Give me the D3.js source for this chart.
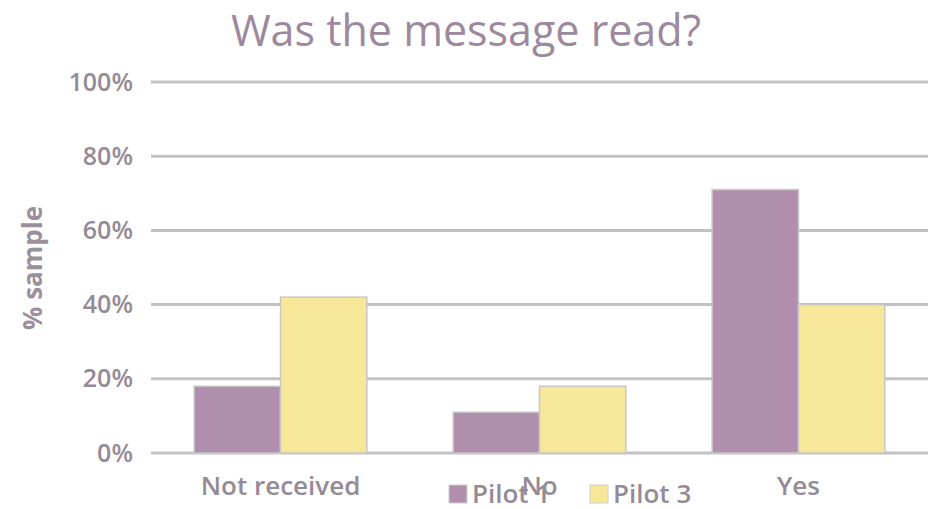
<!DOCTYPE html>
<html>
<head>
<meta charset="utf-8">
<script src="https://cdn.jsdelivr.net/npm/d3@7"></script>
<style>
  body { margin: 0; background: #fff; }
  text { font-family: "Open Sans", sans-serif; }
</style>
</head>
<body>
<div class="canva"></div>
<script>
// chart data
const categories = ['Not received', 'No', 'Yes'];
const seriesNames = ['Pilot 1', 'Pilot 3'];
const pilot1 = [18, 11, 71];
const pilot3 = [42, 18, 40];
const yTicks = [0, 20, 40, 60, 80, 100];
const colors = ['#b08fae', '#f7e799'];

const W = 934, H = 509;
const margin = {top: 82, right: 6, bottom: 56, left: 151};

const svg = d3.select('.canva').append('svg')
  .attr('width', W)
  .attr('height', H)

const x = d3.scaleBand().domain(categories)
  .range([margin.left, W - margin.right])
  .paddingInner(0).paddingOuter(0);
const xs = d3.scaleBand().domain(seriesNames)
  .range([0, x.bandwidth()])
  .paddingInner(0).paddingOuter(0.5);
const y = d3.scaleLinear().domain([0, 100])
  .range([H - margin.bottom, margin.top]);

//gridlines
svg.append('g').selectAll('line')
  .data(yTicks).enter().append('line')
  .attr('x1', margin.left).attr('x2', W - margin.right)
  .attr('y1', d => y(d)).attr('y2', d => y(d))
  .attr('stroke', '#c2c2c2').attr('stroke-width', 3)

//y axis labels
const yAxis = svg.append('g')
  .attr('transform', `translate(${margin.left - 15},0)`)
  .call(d3.axisLeft(y).tickValues(yTicks).tickSize(0).tickFormat(d => d + '%'))
yAxis.select('.domain').remove();
yAxis.selectAll('text')
  .attr('font-size', 25).attr('font-weight', 600)
  .attr('fill', '#958b96').attr('font-family', '"Open Sans", sans-serif')

//bars
const rows = categories.map((c, i) => ({cat: c, vals: [pilot1[i], pilot3[i]]}));
const groups = svg.append('g').selectAll('g')
  .data(rows).enter().append('g')
  .attr('transform', d => `translate(${x(d.cat)},0)`)
groups.selectAll('rect')
  .data(d => d.vals.map((v, j) => ({name: seriesNames[j], v: v, j: j})))
  .enter().append('rect')
  .attr('x', d => xs(d.name))
  .attr('width', xs.bandwidth())
  .attr('y', d => y(d.v))
  .attr('height', d => y(0) - y(d.v))
  .attr('fill', d => colors[d.j])
  .attr('stroke', '#c9c6c6').attr('stroke-width', 1.5)

//x axis labels
const xAxis = svg.append('g')
  .attr('transform', `translate(0,${y(0) + 21})`)
  .call(d3.axisBottom(x).tickSize(0))
xAxis.select('.domain').remove();
xAxis.selectAll('text')
  .attr('font-size', 26).attr('font-weight', 600)
  .attr('fill', '#958b96').attr('font-family', '"Open Sans", sans-serif')

//title
svg.append('text')
  .attr('x', 466).attr('y', 46)
  .attr('text-anchor', 'middle')
  .attr('font-size', 43).attr('font-weight', 500).attr('fill', '#9d899d')
  .text('Was the message read?')

//y axis title
svg.append('text')
  .attr('transform', 'translate(42,268) rotate(-90)')
  .attr('text-anchor', 'middle')
  .attr('font-size', 26).attr('font-weight', 'bold')
  .attr('fill', '#9b8f9c')
  .text('% sample')

//legend
const legendX = [449, 590];
const legend = svg.append('g').selectAll('g')
  .data(seriesNames).enter().append('g')
  .attr('transform', (d, i) => `translate(${legendX[i]},485)`)
legend.append('rect')
  .attr('width', 18).attr('height', 18)
  .attr('fill', (d, i) => colors[i])
  .attr('stroke', '#d0cccc')
legend.append('text')
  .attr('x', 23).attr('y', 18)
  .attr('font-size', 26).attr('font-weight', 600).attr('fill', '#958b96')
  .text(d => d)
</script>
</body>
</html>
